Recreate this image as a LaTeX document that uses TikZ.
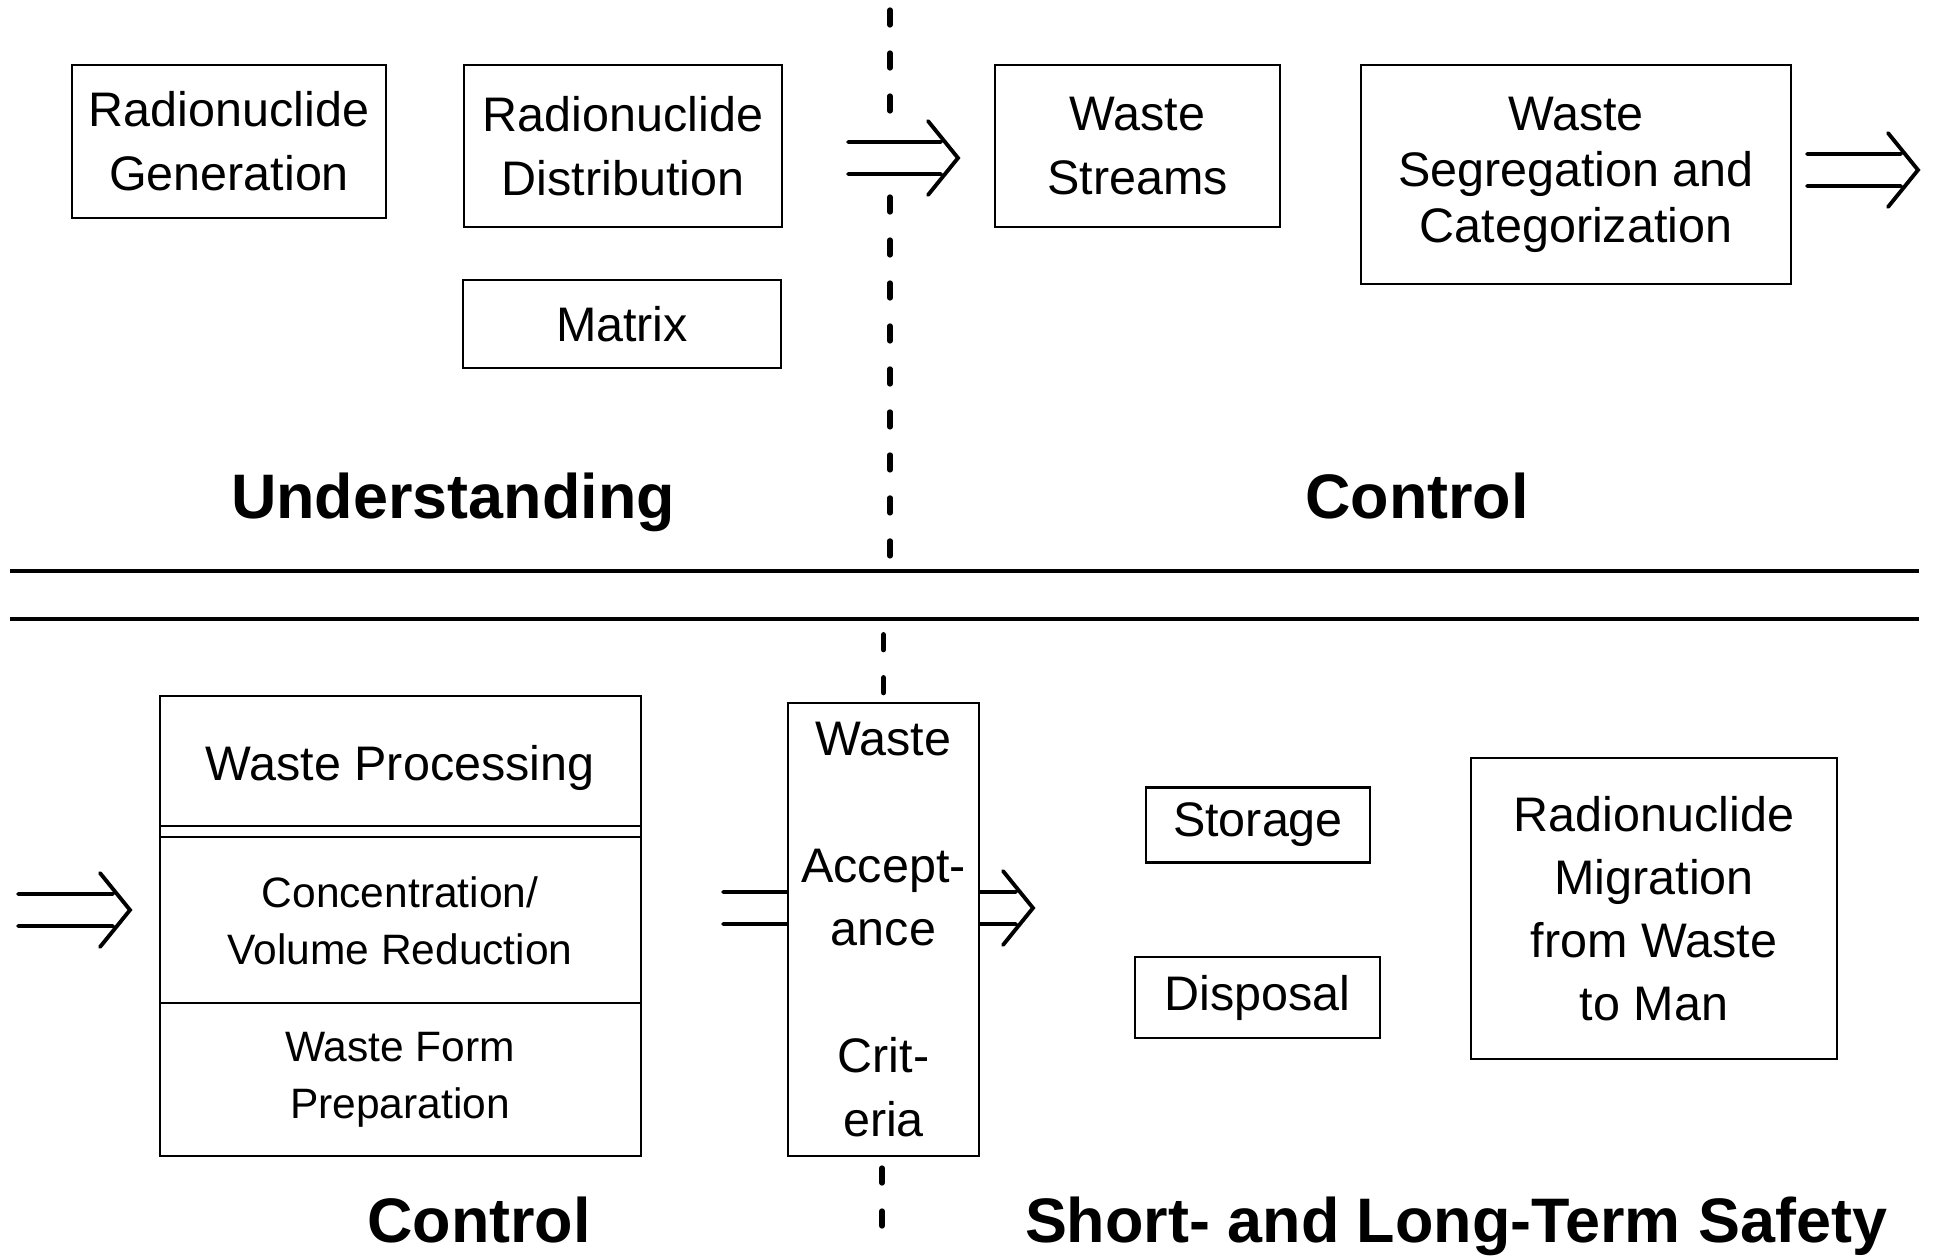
\documentclass[tikz,border=0pt]{standalone}
\usepackage{fontspec}
\setmainfont{Liberation Sans}
\usetikzlibrary{calc}

\begin{document}
\begin{tikzpicture}[x=0.02cm,y=-0.02cm,
		box/.style={draw,line width=1.5pt,inner sep=0pt,align=center,font=\fontsize{27.6}{36.4}\selectfont},
		wh/.style 2 args={minimum width=#1*0.02cm,minimum height=#2*0.02cm},
		subtxt/.style={align=center,inner sep=0pt,font=\fontsize{24.2}{32.2}\selectfont},
		headline/.style={anchor=base,inner sep=0pt,font=\fontsize{35.8}{40}\selectfont\bfseries},
		dblarr/.style={line width=2.2pt,line cap=round},
		divide/.style={line width=2.8pt},
		cut/.style={line width=3pt,line cap=round,dash pattern=on 0.3cm off 0.56cm}]
	\useasboundingbox (0,0) rectangle (1935,1257);
	% upper half
	\node[box,wh={314}{153}] (gen) at (229,141.5) {Radionuclide\\Generation};
	\node[box,wh={318}{162}] (dist) at (623,146) {Radionuclide\\Distribution};
	\node[box,wh={318}{88}] (mtx) at (622,324) {Matrix};
	\node[box,wh={285}{162}] (streams) at (1137.5,146) {Waste\\Streams};
	\node[box,wh={430}{219},font=\fontsize{27.6}{31.9}\selectfont] (segr) at (1576,174.5) {Waste\\Segregation and\\Categorization};
	\node[headline] (und) at (453,518) {Understanding};
	\node[headline] (ctrlA) at (1417,518) {Control};
	\draw[divide] (10,571) -- (1919,571);
	\draw[divide] (10,619) -- (1919,619);
	\draw[cut] (890,10) -- (890,123);
	\draw[cut] (890,197) -- (890,568);
	% lower half
	\node[box,wh={481}{460}] (proc) at (400.5,926) {};
	\node[box,draw=none] (procT) at (400,768) {Waste Processing};
	\node[subtxt] (conc) at (400,921) {Concentration/\\Volume Reduction};
	\node[subtxt] (form) at (400,1080) {Waste Form\\Preparation};
	\draw[line width=1.5pt] (proc.west |- 0,826) -- (proc.east |- 0,826);
	\draw[line width=1.5pt] (proc.west |- 0,837) -- (proc.east |- 0,837);
	\draw[line width=1.5pt] (proc.west |- 0,1003) -- (proc.east |- 0,1003);
	\node[box,wh={191}{453},font=\fontsize{27.6}{36.1}\selectfont] (accept) at (883.5,929.5) {Waste\\[36.1pt]Accept-\\ance\\[36.1pt]Crit-\\eria};
	\node[box,wh={224}{75}] (store) at (1258,825) {Storage};
	\node[box,wh={245}{81}] (disp) at (1257.5,997.5) {Disposal};
	\node[box,wh={366}{301},font=\fontsize{27.6}{35.9}\selectfont] (migr) at (1654,908.5) {Radionuclide\\Migration\\from Waste\\to Man};
	\node[headline] (ctrlB) at (479,1242) {Control};
	\node[headline] (safety) at (1456,1242) {Short- and Long-Term Safety};
	\draw[cut] (accept.north) ++(0,-67) -- (accept.north);
	\draw[cut] (882,1168) -- (882,1252);
	% double arrows
	\coordinate (a1s) at (848,158);  \coordinate (a1t) at (958,158);
	\coordinate (a2s) at (1807,170); \coordinate (a2t) at (1918,170);
	\coordinate (a3s) at (18,910);   \coordinate (a3t) at (130,910);
	\coordinate (a4s) at (723,908);  \coordinate (a4t) at (1033,908);
	\foreach \s/\t in {a1s/a1t,a2s/a2t,a3s/a3t}{
		\draw[dblarr] ([shift={(0,-16)}]\s) -- ([shift={(-17,-16)}]\t)
		([shift={(0,16)}]\s) -- ([shift={(-17,16)}]\t)
		([shift={(-30,-37)}]\t) -- (\t) -- ([shift={(-30,37)}]\t);}
	\draw[dblarr] ($(a4s)+(0,-16)$) -- ($(accept.west |- a4s)+(0,-16)$)
	($(a4s)+(0,16)$) -- ($(accept.west |- a4s)+(0,16)$)
	($(accept.east |- a4s)+(0,-16)$) -- ($(a4t)+(-17,-16)$)
	($(accept.east |- a4s)+(0,16)$) -- ($(a4t)+(-17,16)$)
	($(a4t)+(-30,-37)$) -- (a4t) -- ($(a4t)+(-30,37)$);
\end{tikzpicture}
\end{document}
